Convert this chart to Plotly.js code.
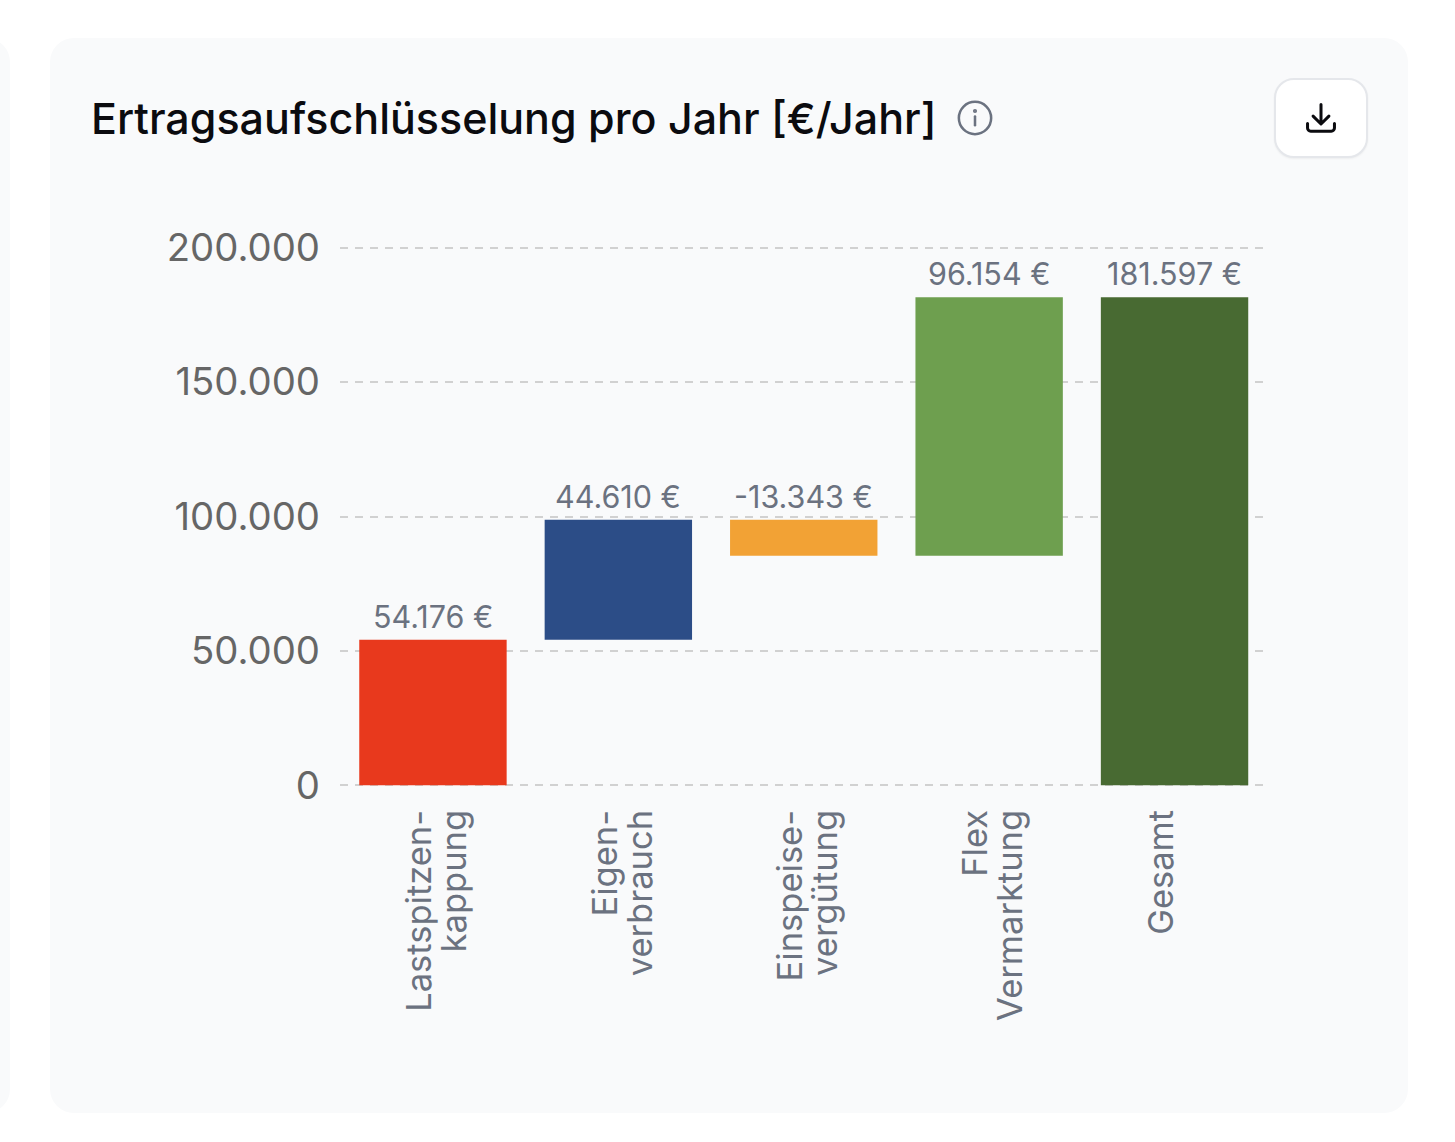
<!DOCTYPE html>
<html>
<head>
<meta charset="utf-8">
<script src="https://cdn.plot.ly/plotly-3.0.1.min.js"></script>
<style>
html,body{margin:0;padding:0;width:1455px;height:1142px;background:#fff;overflow:hidden;font-family:Inter,sans-serif}
.side{position:absolute;left:-40px;top:38px;width:50px;height:1075px;background:#f9fafb;border-radius:24px}
.card{position:absolute;left:50px;top:38px;width:1358px;height:1075px;background:#f9fafb;border-radius:24px}
#chart{position:absolute;left:0;top:0;width:1455px;height:1142px}
.info{position:absolute;left:956px;top:99px;width:38px;height:38px}
.btn{position:absolute;left:1274px;top:78px;width:94px;height:80px;box-sizing:border-box;background:#fff;border:2px solid #e5e7eb;border-radius:20px;box-shadow:0 1px 2px rgba(0,0,0,.05)}
.btn svg{position:absolute;left:26px;top:19px;width:38px;height:38px}
</style>
</head>
<body>
<div class="side"></div>
<div class="card"></div>
<div id="chart"></div>
<svg class="info" viewBox="0 0 24 24" fill="none" stroke="#6b7280" stroke-width="1.6" stroke-linecap="round"><circle cx="12" cy="12" r="10.2"/><path d="M12 11v5.5"/><circle cx="12" cy="7.6" r="0.5" fill="#6b7280"/></svg>
<div class="btn"><svg viewBox="0 0 24 24" fill="none" stroke="#0b0b0f" stroke-width="1.9" stroke-linecap="round" stroke-linejoin="round"><path d="M12 3.5v12M7 10.8l5 5 5-5"/><path d="M3.5 15.5v2.8a2 2 0 0 0 2 2h13a2 2 0 0 0 2-2v-2.8"/></svg></div>
<script>
const labelLine1 = ["Lastspitzen-", "Eigen-", "Einspeise-", "Flex", "Gesamt"];
const labelLine2 = ["kappung", "verbrauch", "vergütung", "Vermarktung"];
const heights = [54176, 44610, 13343, 96154, 181597];
const bases = [0, 54176, 85443, 85443, 0];
const valueLabels = ["54.176 €", "44.610 €", "-13.343 €", "96.154 €", "181.597 €"];
const barColors = ["#e8391d", "#2c4d87", "#f2a235", "#6e9f4f", "#486a32"];
const yTicks = [0, 50000, 100000, 150000, 200000];
const yTickLabels = ["0", "50.000", "100.000", "150.000", "200.000"];

const W = 1455, H = 1142;
const pxPerUnitY = 538 / 200000;
const padY = 1000;
const stepX = 185.5, firstCenter = 432.5;
const L = 339.5, R = 1263;
const T = 247.5 - padY * pxPerUnitY, B = 785.5 + padY * pxPerUnitY;
const xRange = [(L - firstCenter) / stepX, (R - firstCenter) / stepX];
const cats = labelLine1.map((_, i) => i);
const xTickFont = {family: "Inter, sans-serif", size: 34.5, color: "#6b7280"};

function labelAxis(vals, text, overlay) {
  const a = {
    type: "linear", range: xRange, tickmode: "array", tickvals: vals, ticktext: text,
    tickangle: -90, showgrid: false, zeroline: false, showline: false, ticks: "",
    ticklabelstandoff: 14, tickfont: xTickFont
  };
  if (overlay) { a.overlaying = "x"; a.anchor = "y"; a.side = "bottom"; }
  return a;
}

Plotly.newPlot("chart", [{
  type: "bar",
  x: cats,
  y: heights,
  base: bases,
  width: 0.795,
  marker: {color: barColors, line: {width: 0}},
  hoverinfo: "skip"
}, {
  type: "scatter", mode: "none", xaxis: "x2", yaxis: "y",
  x: labelLine2.map((_, i) => i), y: labelLine2.map(() => 0),
  hoverinfo: "skip"
}], {
  width: W, height: H,
  paper_bgcolor: "rgba(0,0,0,0)",
  plot_bgcolor: "rgba(0,0,0,0)",
  showlegend: false,
  margin: {l: L, r: W - R, t: T, b: H - B, pad: 0, autoexpand: false},
  title: {
    text: "Ertragsaufschlüsselung pro Jahr [€/Jahr]",
    font: {family: "Inter, sans-serif", size: 43, color: "#0b0b0f", weight: 500},
    x: 91 / W, xanchor: "left", xref: "container",
    y: 1 - 119 / H, yanchor: "middle", yref: "container", automargin: false
  },
  annotations: cats.map(i => ({
    x: i, y: bases[i] + heights[i], xref: "x", yref: "y",
    text: valueLabels[i], showarrow: false,
    xanchor: "center", yanchor: "bottom", yshift: 4, borderpad: 0,
    font: {family: "Inter, sans-serif", size: 30.5, color: "#6b7280"}
  })),
  xaxis: labelAxis(cats.map(i => i - 13 / stepX), labelLine1, false),
  xaxis2: labelAxis(labelLine2.map((_, i) => i + 22 / stepX), labelLine2, true),
  yaxis: {
    range: [-padY, 200000 + padY],
    tickmode: "array",
    tickvals: yTicks,
    ticktext: yTickLabels,
    showgrid: true, gridcolor: "#d1d1d1", gridwidth: 2, griddash: "8px,7px",
    zeroline: false, showline: false, ticks: "",
    ticklabelstandoff: 19,
    tickfont: {family: "Inter, sans-serif", size: 38.3, color: "#666666"}
  }
}, {displayModeBar: false, staticPlot: true});
</script>
</body>
</html>
